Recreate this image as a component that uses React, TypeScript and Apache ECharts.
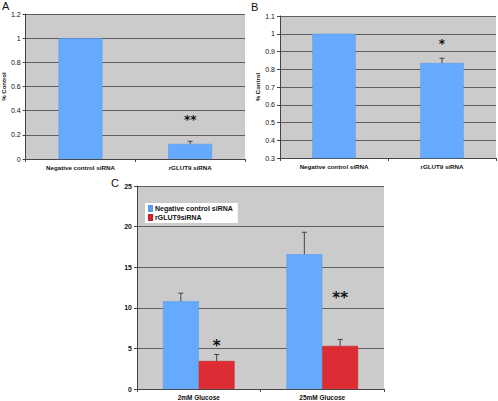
import React, { useEffect, useRef } from "react";
import * as echarts from "echarts";

const catsAB = ["Negative control siRNA", "rGLUT9 siRNA"];
const valuesA = [1.0, 0.125];
const errorsA = [0, 0.022];
const starsA = ["", "**"];
const starYA = [0, 0.32];

const valuesB = [1.0, 0.835];
const errorsB = [0, 0.027];
const starsB = ["", "*"];
const starYB = [0, 0.94];

const catsC = ["2mM Glucose", "25mM Glucose"];
const seriesNamesC = ["Negative control siRNA", "rGLUT9siRNA"];
const ctrlC = [10.8, 16.6];
const ctrlErrC = [1.0, 2.7];
const siC = [3.45, 5.3];
const siErrC = [0.8, 0.8];
const starsC = ["*", "**"];
const starYC = [5.3, 11.2];

const BLUE = "#66aaff";
const RED = "#dd2c33";
const BG = "#cbcbcb";
const GRID = "#5f5f5f";
const FONT = "Liberation Sans";
const STARFONT = "DejaVu Sans";

function errSeries(idx: number, vals: number[], errs: number[], offFrac: number) {
  return {
    type: "custom",
    xAxisIndex: idx,
    yAxisIndex: idx,
    z: 5,
    silent: true,
    data: vals.map((v, i) => [i, v, errs[i]]),
    renderItem: (params: any, api: any) => {
      const e = api.value(2);
      if (!e) return null;
      const band = api.size([1, 0])[0];
      const off = band * offFrac;
      const p0 = api.coord([api.value(0), api.value(1)]);
      const p1 = api.coord([api.value(0), api.value(1) + e]);
      const x = p0[0] + off;
      const style = { stroke: "#444", lineWidth: 1 };
      return {
        type: "group",
        children: [
          { type: "line", shape: { x1: x, y1: p0[1], x2: x, y2: p1[1] }, style },
          { type: "line", shape: { x1: x - 2.5, y1: p1[1], x2: x + 2.5, y2: p1[1] }, style },
        ],
      };
    },
  };
}

function starSeries(idx: number, stars: string[], ys: number[], size: number, offFrac: number) {
  return {
    type: "custom",
    xAxisIndex: idx,
    yAxisIndex: idx,
    z: 6,
    silent: true,
    data: stars.map((s, i) => [i, ys[i]]),
    renderItem: (params: any, api: any) => {
      const s = stars[params.dataIndex];
      if (!s) return null;
      const band = api.size([1, 0])[0];
      const p = api.coord([api.value(0), api.value(1)]);
      return {
        type: "text",
        x: p[0] + band * offFrac,
        y: p[1],
        style: {
          text: s,
          fontSize: size,
          fontWeight: "bold",
          fontFamily: STARFONT,
          fill: "#111",
          align: "center",
          verticalAlign: "middle",
        },
      };
    },
  };
}

function xAxis(idx: number, cats: string[], fs: number) {
  return {
    type: "category",
    gridIndex: idx,
    data: cats,
    axisLine: { lineStyle: { color: "#444" } },
    axisTick: { show: true, length: 3, lineStyle: { color: "#444" } },
    axisLabel: { fontSize: fs, fontWeight: "bold", color: "#111", fontFamily: FONT, margin: 5 },
  };
}

function yAxis(idx: number, min: number, max: number, interval: number, name: string, bold: boolean) {
  return {
    type: "value",
    gridIndex: idx,
    min,
    max,
    interval,
    name,
    nameLocation: "middle",
    nameGap: 17,
    nameTextStyle: { fontSize: 6, fontWeight: "bold", color: "#111", fontFamily: FONT },
    axisLine: { show: true, lineStyle: { color: "#444" } },
    axisTick: { show: true, length: 3, lineStyle: { color: "#444" } },
    splitLine: { show: true, lineStyle: { color: GRID, width: 1 } },
    axisLabel: {
      fontSize: 7,
      fontWeight: bold ? "bold" : "normal",
      color: "#111",
      fontFamily: FONT,
      margin: 5,
    },
  };
}

export default function App() {
  const ref = useRef<HTMLDivElement>(null);
  useEffect(() => {
    if (!ref.current) return;
    const chart = echarts.init(ref.current, null, { renderer: "svg" });
    const gridBase = { show: true, backgroundColor: BG, borderWidth: 0, containLabel: false };
    const letter = { fontSize: 11, fontWeight: "normal", color: "#111", fontFamily: FONT };
    chart.setOption({
      animation: false,
      backgroundColor: "#fff",
      title: [
        { text: "A", left: 2, top: 0, padding: 0, textStyle: letter },
        { text: "B", left: 251, top: 1, padding: 0, textStyle: letter },
        { text: "C", left: 111, top: 177, padding: 0, textStyle: letter },
      ],
      grid: [
        { ...gridBase, left: 23, top: 14, width: 222, height: 145 },
        { ...gridBase, left: 280, top: 16, width: 216, height: 142 },
        { ...gridBase, left: 137, top: 186, width: 247, height: 204 },
      ],
      xAxis: [xAxis(0, catsAB, 6.2), xAxis(1, catsAB, 6.2), xAxis(2, catsC, 6.5)],
      yAxis: [
        yAxis(0, 0, 1.2, 0.2, "% Control", false),
        yAxis(1, 0.3, 1.1, 0.1, "% Control", false),
        yAxis(2, 0, 25, 5, "", true),
      ],
      legend: {
        data: seriesNamesC,
        orient: "vertical",
        left: 145,
        top: 203,
        itemWidth: 3,
        itemHeight: 5,
        itemGap: 2,
        padding: [2, 5, 2, 3],
        backgroundColor: "#fff",
        icon: "rect",
        textStyle: { fontSize: 7, fontWeight: "bold", color: "#111", fontFamily: FONT, padding: [0, 0, 0, -2] },
      },
      series: [
        {
          type: "bar",
          xAxisIndex: 0,
          yAxisIndex: 0,
          data: valuesA,
          barWidth: "40%",
          itemStyle: { color: BLUE, borderColor: "#5b9ae6", borderWidth: 0.6 },
        },
        errSeries(0, valuesA, errorsA, 0),
        starSeries(0, starsA, starYA, 12, 0),
        {
          type: "bar",
          xAxisIndex: 1,
          yAxisIndex: 1,
          data: valuesB,
          barWidth: "40%",
          itemStyle: { color: BLUE, borderColor: "#5b9ae6", borderWidth: 0.6 },
        },
        errSeries(1, valuesB, errorsB, 0),
        starSeries(1, starsB, starYB, 12, 0),
        {
          type: "bar",
          name: seriesNamesC[0],
          xAxisIndex: 2,
          yAxisIndex: 2,
          data: ctrlC,
          barWidth: "29%",
          barGap: "0%",
          itemStyle: { color: BLUE, borderColor: "#5b9ae6", borderWidth: 0.6 },
        },
        {
          type: "bar",
          name: seriesNamesC[1],
          xAxisIndex: 2,
          yAxisIndex: 2,
          data: siC,
          barWidth: "29%",
          barGap: "0%",
          itemStyle: { color: RED, borderColor: "#c42429", borderWidth: 0.6 },
        },
        errSeries(2, ctrlC, ctrlErrC, -0.145),
        errSeries(2, siC, siErrC, 0.145),
        starSeries(2, starsC, starYC, 15, 0.145),
      ],
    });
    return () => chart.dispose();
  }, []);
  return (
    <div
      ref={ref}
      style={{ position: "fixed", left: 0, top: 0, width: 498, height: 401, background: "#fff" }}
    />
  );
}
